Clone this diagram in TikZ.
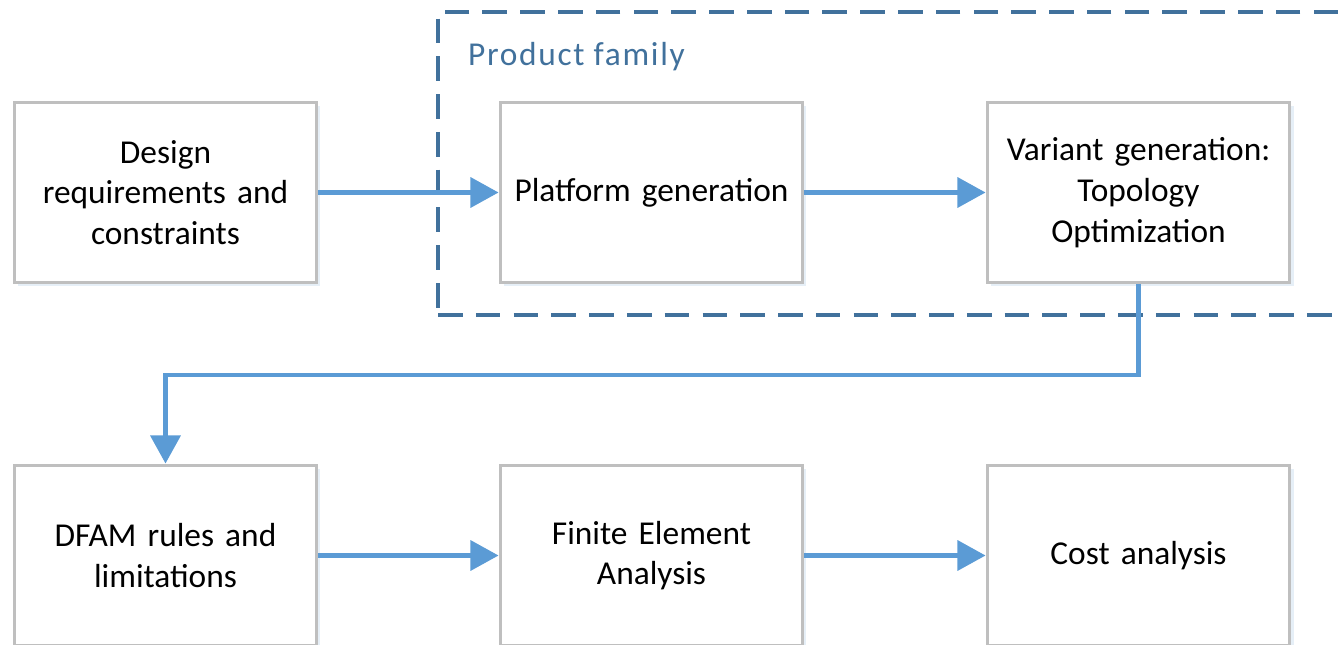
\documentclass[tikz,border=0pt]{standalone}
\usepackage{fontspec}
\setmainfont{Carlito}
\usepackage{tikz}
\usetikzlibrary{
  arrows.meta,
  positioning,
  shadows
}
\definecolor{boxgray}{RGB}{191,191,191}
\definecolor{flowblue}{RGB}{91,155,213}
\definecolor{famblue}{RGB}{65,113,156}
\definecolor{shadowblue}{RGB}{214,228,242}

\begin{document}
\begin{tikzpicture}[
  x=0.02cm, y=-0.02cm,
  stage/.style ={draw=boxgray,line width=1.7pt,fill=white,minimum width=6.06cm,
                 minimum height=3.62cm,align=center,text width=5.6cm,
                 font=\fontsize{19}{23.2}\selectfont,
                 drop shadow={shadow xshift=2pt,shadow yshift=-2pt,
                              fill=shadowblue,opacity=0.6}},
  famframe/.style={draw=famblue,line width=2pt,dash pattern=on 14pt off 7.5pt,
                 minimum width=18.44cm,minimum height=6.06cm,inner sep=0pt},
  flow/.style  ={-{Triangle[length=16pt,width=17pt]},line width=2.3pt,flowblue},
]
\useasboundingbox (0,0) rectangle (1338,645);

% product family frame
\node[famframe] (family) at (899,163.5) {};
\node[anchor=west,famblue,font=\fontsize{19}{23.2}\selectfont\addfontfeature{LetterSpace=5}]
  (famlabel) at (462,57) {Product family};

% top row
\node[stage] (req)  at ( 165.5,192.5) {Design\\requirements and\\constraints};
\node[stage] (plat) at ( 651.5,192.5) {Platform generation};
\node[stage] (var)  at (1138.5,192.5) {Variant generation:\\Topology\\Optimization};

% bottom row
\node[stage] (dfam) at ( 165.5,555.5) {DFAM rules and\\limitations};
\node[stage] (fea)  at ( 651.5,555.5) {Finite Element\\Analysis};
\node[stage] (cost) at (1138.5,555.5) {Cost analysis};

% connectors
\coordinate (bend) at (1138.5,375);
\draw[flow] (req)  -- (plat);
\draw[flow] (plat) -- (var);
\draw[flow] (var.south) -- (bend) -| (dfam.north);
\draw[flow] (dfam) -- (fea);
\draw[flow] (fea)  -- (cost);
\end{tikzpicture}
\end{document}
